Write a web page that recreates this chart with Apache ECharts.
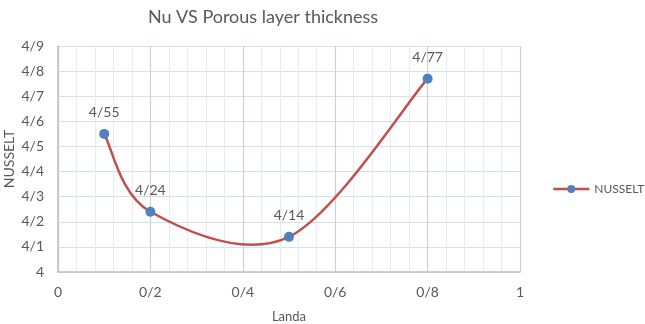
<!DOCTYPE html>
<html><head><meta charset="utf-8">
<script src="https://cdn.jsdelivr.net/npm/echarts@6/dist/echarts.min.js"></script>
<style>html,body{margin:0;padding:0;background:#fff}#c{width:645px;height:324px}</style>
</head><body><div id="c"></div>
<script>
const landa = [0.1, 0.2, 0.5, 0.8];
const nusselt = [4.55, 4.24, 4.14, 4.77];
const seriesName = 'NUSSELT';
const titleText = 'Nu VS Porous layer thickness';
const xName = 'Landa';
const yName = 'NUSSELT';

function fmt(v){ return String(parseFloat(Number(v).toFixed(2))).replace('.', '/'); }
const FONT = 'Lato';
const LINE_COLOR = '#C0504D';
const chart = echarts.init(document.getElementById('c'), null, {renderer:'canvas'});

// Excel-style smoothed curve (Catmull-Rom -> Bezier, 1/6 tension) through the data points
function renderCurve(params, api){
  if (params.dataIndex !== 0) return null;
  const pts = landa.map((x,i)=>api.coord([x, nusselt[i]]));
  const n = pts.length;
  const P = i => pts[Math.max(0, Math.min(n-1, i))];
  let d = 'M' + pts[0][0] + ' ' + pts[0][1];
  for (let i=0;i<n-1;i++){
    const p0=P(i-1), p1=P(i), p2=P(i+1), p3=P(i+2);
    const c1=[p1[0]+(p2[0]-p0[0])/6, p1[1]+(p2[1]-p0[1])/6];
    const c2=[p2[0]-(p3[0]-p1[0])/6, p2[1]-(p3[1]-p1[1])/6];
    d += ' C' + c1[0]+' '+c1[1]+' '+c2[0]+' '+c2[1]+' '+p2[0]+' '+p2[1];
  }
  return {type:'path', shape:{pathData:d}, style:{fill:null, stroke:LINE_COLOR, lineWidth:2.5}, silent:true};
}

chart.setOption({
  animation:false,
  backgroundColor:'#fff',
  title:{text:titleText,left:258,top:3,textAlign:'center',
    textStyle:{fontFamily:FONT,fontSize:18,fontWeight:'normal',color:'#595959'}},
  grid:{left:58,right:125,top:46,bottom:52,outerBoundsMode:'none',containLabel:false},
  legend:{data:[{name:seriesName,lineStyle:{color:LINE_COLOR,width:2.5,opacity:1}}],left:547,top:178,itemWidth:36,itemHeight:10,itemGap:2,
    textStyle:{fontFamily:FONT,fontSize:12,color:'#595959'}},
  xAxis:{type:'value',min:0,max:1,interval:0.2,
    name:xName,nameLocation:'middle',nameGap:38,nameMoveOverlap:false,
    nameTextStyle:{fontFamily:FONT,fontSize:13,color:'#595959'},
    axisLine:{show:true,lineStyle:{color:'#BFBFBF',width:1.5}},
    axisTick:{show:false},
    axisLabel:{formatter:fmt,fontFamily:FONT,fontSize:14,color:'#595959',margin:13},
    splitLine:{show:true,lineStyle:{color:'#D0D0D0',width:1.2}},
    minorTick:{show:false,splitNumber:5},
    minorSplitLine:{show:true,lineStyle:{color:'#E6ECF4',width:1}}
  },
  yAxis:{type:'value',min:4,max:4.9,interval:0.1,
    name:yName,nameLocation:'middle',nameGap:42,nameMoveOverlap:false,
    nameTextStyle:{fontFamily:FONT,fontSize:14,color:'#595959'},
    axisLine:{show:true,lineStyle:{color:'#BFBFBF',width:1.5}},
    axisTick:{show:false},
    axisLabel:{formatter:fmt,fontFamily:FONT,fontSize:14,color:'#595959',margin:14},
    splitLine:{show:true,lineStyle:{color:'#D5E1EF',width:1.2}}
  },
  series:[{
    name:'curve',type:'custom',renderItem:renderCurve,
    data:landa.map((x,i)=>[x,nusselt[i]]),z:2,silent:true
  },{
    name:seriesName,type:'line',smooth:false,
    data:landa.map((x,i)=>[x,nusselt[i]]),
    symbol:'circle',symbolSize:10,z:3,
    lineStyle:{color:LINE_COLOR,width:0,opacity:0},
    itemStyle:{color:'#4F81BD'},
    label:{show:true,position:'top',distance:9,formatter:p=>fmt(p.value[1]),
      fontFamily:FONT,fontSize:14,color:'#595959'}
  }]
});
</script></body></html>
